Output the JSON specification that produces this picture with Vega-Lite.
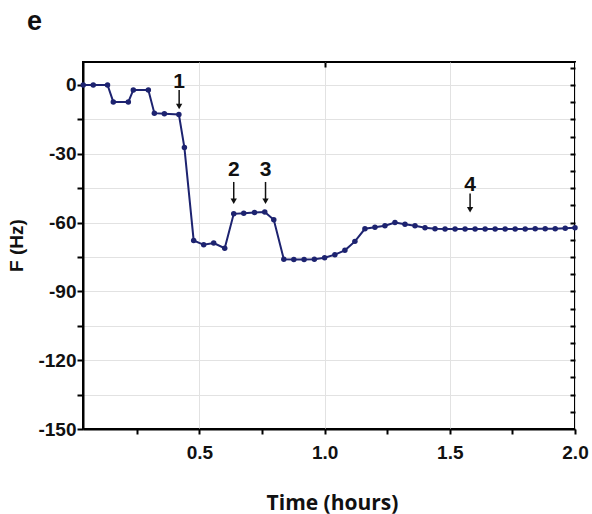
{
  "$schema": "https://vega.github.io/schema/vega-lite/v6.json",
  "width": 492,
  "height": 367,
  "autosize": "none",
  "padding": {"left": 83, "top": 62, "right": 17, "bottom": 85},
  "background": "white",
  "title": {"text": "e", "anchor": "start", "frame": "group", "dx": -56, "dy": 25, "offset": 29, "baseline": "alphabetic", "fontSize": 27, "font": "Liberation Sans", "fontWeight": "bold", "color": "#111111"},
  "config": {
    "view": {"stroke": "#000000", "strokeWidth": 2},
    "axis": {"labelFont": "Liberation Sans", "labelFontWeight": "bold", "labelFontSize": 19, "labelColor": "#111111", "tickColor": "#000000", "tickWidth": 2, "domainColor": "#000000", "domainWidth": 2, "gridColor": "#e2e2e2", "gridWidth": 1, "labelOverlap": false, "labelFlush": false, "labelBound": false}
  },
  "datasets": {
    "series": [
      {"time": 0.036, "F": 0},
      {"time": 0.076, "F": 0},
      {"time": 0.133, "F": 0},
      {"time": 0.156, "F": -7.4},
      {"time": 0.216, "F": -7.4},
      {"time": 0.236, "F": -2.2},
      {"time": 0.296, "F": -2.2},
      {"time": 0.32, "F": -12.3},
      {"time": 0.36, "F": -12.6},
      {"time": 0.418, "F": -12.9},
      {"time": 0.44, "F": -27.3},
      {"time": 0.477, "F": -67.8},
      {"time": 0.517, "F": -69.7},
      {"time": 0.557, "F": -68.9},
      {"time": 0.601, "F": -71.2},
      {"time": 0.637, "F": -56.2},
      {"time": 0.677, "F": -55.9},
      {"time": 0.72, "F": -55.6},
      {"time": 0.761, "F": -55.4},
      {"time": 0.797, "F": -58.8},
      {"time": 0.837, "F": -76.0},
      {"time": 0.877, "F": -76.1},
      {"time": 0.918, "F": -76.1},
      {"time": 0.959, "F": -76.0},
      {"time": 1.0, "F": -75.3},
      {"time": 1.041, "F": -74.0},
      {"time": 1.081, "F": -72.1},
      {"time": 1.121, "F": -68.2},
      {"time": 1.161, "F": -62.7},
      {"time": 1.201, "F": -62.0},
      {"time": 1.241, "F": -61.4},
      {"time": 1.281, "F": -60.0},
      {"time": 1.321, "F": -60.7},
      {"time": 1.361, "F": -61.4},
      {"time": 1.401, "F": -62.3},
      {"time": 1.441, "F": -62.7},
      {"time": 1.481, "F": -62.8},
      {"time": 1.521, "F": -62.8},
      {"time": 1.561, "F": -62.8},
      {"time": 1.601, "F": -62.8},
      {"time": 1.641, "F": -62.8},
      {"time": 1.681, "F": -62.8},
      {"time": 1.721, "F": -62.8},
      {"time": 1.761, "F": -62.8},
      {"time": 1.801, "F": -62.8},
      {"time": 1.841, "F": -62.7},
      {"time": 1.881, "F": -62.7},
      {"time": 1.921, "F": -62.7},
      {"time": 1.961, "F": -62.5},
      {"time": 2.0, "F": -62.3}
    ],
    "notes": [
      {"label": "1", "time": 0.419, "textY": -1.3, "shaftTop": -2.2, "headY": -9.4},
      {"label": "2", "time": 0.637, "textY": -39.9, "shaftTop": -42.3, "headY": -50.7},
      {"label": "3", "time": 0.764, "textY": -39.9, "shaftTop": -42.3, "headY": -50.7},
      {"label": "4", "time": 1.581, "textY": -46.4, "shaftTop": -47.3, "headY": -54.4}
    ]
  },
  "layer": [
    {
      "data": {"name": "series"},
      "mark": {"type": "line", "color": "#1d2370", "strokeWidth": 2},
      "encoding": {
        "x": {"field": "time", "type": "quantitative", "scale": {"domain": [0.035, 2.0], "nice": false, "zero": false},
          "axis": {"orient": "bottom", "values": [0.25, 0.5, 0.75, 1.0, 1.25, 1.5, 1.75, 2.0], "labelExpr": "datum.value % 0.5 === 0 ? format(datum.value, '.1f') : ''", "grid": true, "gridOpacity": {"condition": {"test": "datum.value % 0.5 === 0", "value": 1}, "value": 0}, "tickSize": 5, "labelPadding": 9, "title": "Time (hours)", "titleFont": "Open Sans", "titleFontSize": 21, "titleFontWeight": "bold", "titleColor": "#111111", "titleX": 249, "titleY": 80, "titleBaseline": "alphabetic", "titleAnchor": "middle"}},
        "y": {"field": "F", "type": "quantitative", "scale": {"domain": [-150, 10], "nice": false, "zero": false},
          "axis": {"orient": "left", "values": [-150, -135, -120, -105, -90, -75, -60, -45, -30, -15, 0], "labelExpr": "datum.value % 30 === 0 ? replace(datum.label, '\u2212', '-') : ''", "grid": true, "tickSize": 6, "labelPadding": 1, "title": "F (Hz)", "titleFont": "Liberation Sans", "titleFontSize": 19, "titleFontWeight": "bold", "titleColor": "#111111", "titleAngle": -90, "titleX": -67, "titleY": 183, "titleBaseline": "middle", "titleAlign": "center"}}
      }
    },
    {
      "data": {"name": "series"},
      "mark": {"type": "point", "filled": true, "size": 30, "color": "#1d2370", "opacity": 1},
      "encoding": {
        "x": {"field": "time", "type": "quantitative", "scale": {"domain": [0.035, 2.0], "nice": false, "zero": false},
          "axis": {"orient": "top", "values": [1.0], "labels": false, "grid": false, "domain": false, "tickSize": -5, "title": null}},
        "y": {"field": "F", "type": "quantitative", "scale": {"domain": [-150, 10], "nice": false, "zero": false},
          "axis": {"orient": "right", "values": [-142.5, -135, -127.5, -120, -112.5, -105, -97.5, -90, -82.5, -75, -67.5, -60, -52.5, -45, -37.5, -30, -22.5, -15, -7.5, 0, 7.5], "labels": false, "grid": false, "domain": false, "tickSize": -5, "title": null}}
      }
    },
    {
      "data": {"name": "notes"},
      "mark": {"type": "text", "font": "Liberation Sans", "fontSize": 21, "fontWeight": "bold", "baseline": "alphabetic", "align": "center", "color": "#111111"},
      "encoding": {
        "x": {"field": "time", "type": "quantitative", "axis": null},
        "y": {"field": "textY", "type": "quantitative", "axis": null},
        "text": {"field": "label"}
      }
    },
    {
      "data": {"name": "notes"},
      "mark": {"type": "rule", "color": "#111111", "strokeWidth": 1.5},
      "encoding": {
        "x": {"field": "time", "type": "quantitative", "axis": null},
        "y": {"field": "shaftTop", "type": "quantitative", "axis": null},
        "y2": {"field": "headY"}
      }
    },
    {
      "data": {"name": "notes"},
      "mark": {"type": "point", "shape": "triangle-down", "filled": true, "size": 40, "color": "#111111", "opacity": 1},
      "encoding": {
        "x": {"field": "time", "type": "quantitative", "axis": null},
        "y": {"field": "headY", "type": "quantitative", "axis": null}
      }
    }
  ],
  "resolve": {"axis": {"x": "independent", "y": "independent"}}
}
